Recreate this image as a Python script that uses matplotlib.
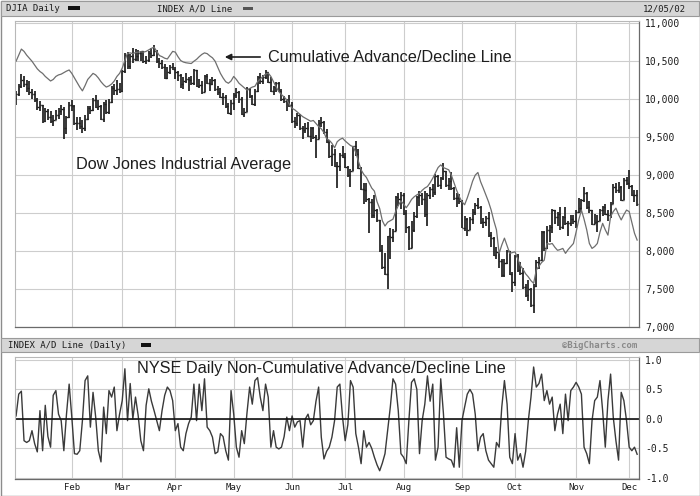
import matplotlib
matplotlib.use("Agg")
import matplotlib.pyplot as plt
import matplotlib.patches as patches
from matplotlib.ticker import FuncFormatter, MultipleLocator
import pandas as pd

# trading days of 2002 shown on the chart (NYSE holidays left out)
holidays = ["2002-01-21", "2002-02-18", "2002-03-29", "2002-05-27",
            "2002-07-04", "2002-09-02", "2002-11-28"]
dates = pd.bdate_range("2002-01-02", "2002-12-05")
dates = dates[~dates.isin(pd.to_datetime(holidays))]
month_labels = ["Feb", "Mar", "Apr", "May", "Jun", "Jul", "Aug", "Sep", "Oct", "Nov", "Dec"]

# DJIA daily bars, one line per month
djia_open = [
    10021, 10073, 10172, 10259, 10197, 10150, 10094, 10067, 9987, 9891, 9924, 9712, 9850, 9771, 9713, 9730, 9796, 9840, 9865, 9618, 9762,
    9920, 9908, 9688, 9685, 9653, 9625, 9745, 9884, 9863, 9989, 9903, 9904, 9745, 9941, 9834, 9969, 10146, 10116, 10128,
    10106, 10368, 10586, 10433, 10574, 10526, 10572, 10612, 10632, 10501, 10517, 10608, 10577, 10635, 10502, 10479, 10427, 10281, 10353, 10426,
    10404, 10362, 10313, 10198, 10235, 10271, 10249, 10208, 10382, 10176, 10191, 10093, 10301, 10220, 10206, 10257, 10136, 10089, 10030, 10035, 9910, 9819,
    9946, 10059, 10091, 10006, 9808, 9836, 10141, 10038, 9939, 10109, 10298, 10244, 10289, 10353, 10229, 10105, 10158, 10216, 10105, 10004, 9981, 9969,
    9925, 9709, 9688, 9796, 9624, 9589, 9620, 9517, 9617, 9502, 9474, 9687, 9706, 9562, 9431, 9253, 9281, 9126, 9120, 9269,
    9243, 9109, 9008, 9055, 9380, 9275, 9097, 8813, 8801, 8685, 8640, 8474, 8542, 8409, 8019, 7785, 7702, 8192, 8187, 8264, 8712, 8680,
    8737, 8506, 8313, 8043, 8274, 8456, 8712, 8745, 8688, 8482, 8743, 8818, 8778, 8990, 8872, 8957, 9053, 8872, 8919, 8825, 8694, 8697,
    8664, 8309, 8426, 8284, 8428, 8520, 8602, 8581, 8380, 8379, 8435, 8207, 8172, 7942, 7986, 7872, 7683, 7841, 7998, 7701,
    7592, 7938, 7755, 7717, 7528, 7422, 7501, 7286, 7534, 7850, 7877, 8255, 8036, 8275, 8322, 8538, 8450, 8494, 8317, 8443, 8368, 8368, 8427,
    8397, 8518, 8571, 8679, 8771, 8586, 8537, 8358, 8386, 8398, 8542, 8579, 8486, 8474, 8623, 8845, 8805, 8849, 8676, 8932,
    8896, 8862, 8743, 8737,
]
djia_high = [
    10111, 10200, 10330, 10300, 10250, 10240, 10130, 10110, 10010, 9980, 9930, 9880, 9870, 9850, 9790, 9860, 9890, 9920, 9900, 9780, 9960,
    9990, 9930, 9760, 9770, 9730, 9790, 9910, 9910, 10010, 10050, 9990, 9920, 9960, 9990, 10000, 10170, 10200, 10250, 10210,
    10390, 10610, 10620, 10600, 10680, 10660, 10650, 10640, 10640, 10570, 10640, 10680, 10720, 10650, 10540, 10520, 10460, 10420, 10450, 10480,
    10420, 10370, 10330, 10290, 10340, 10290, 10300, 10400, 10390, 10260, 10240, 10320, 10330, 10260, 10290, 10260, 10180, 10150, 10080, 10060, 9950, 9990,
    10080, 10150, 10110, 10030, 9890, 10160, 10150, 10060, 10130, 10310, 10340, 10320, 10390, 10360, 10290, 10180, 10230, 10230, 10140, 10040, 10000, 10060,
    9960, 9760, 9820, 9800, 9650, 9690, 9700, 9640, 9640, 9530, 9720, 9760, 9710, 9610, 9460, 9400, 9350, 9170, 9290, 9380,
    9290, 9120, 9080, 9390, 9450, 9340, 9110, 8890, 8890, 8700, 8680, 8740, 8560, 8410, 8080, 7980, 8200, 8300, 8290, 8720, 8770, 8780,
    8760, 8540, 8330, 8390, 8520, 8730, 8790, 8760, 8790, 8770, 8850, 8880, 9010, 9000, 8980, 9160, 9060, 8960, 9040, 8840, 8760, 8750,
    8670, 8460, 8430, 8450, 8560, 8630, 8700, 8590, 8440, 8460, 8510, 8250, 8180, 8050, 7990, 7900, 7900, 8020, 8000, 7720,
    7950, 7960, 7860, 7780, 7560, 7620, 7520, 7560, 7880, 7920, 8270, 8260, 8330, 8340, 8560, 8540, 8520, 8580, 8460, 8580, 8400, 8480, 8480,
    8540, 8700, 8690, 8850, 8780, 8660, 8540, 8490, 8470, 8560, 8600, 8620, 8540, 8650, 8880, 8900, 8910, 8860, 8960, 8970,
    9070, 8870, 8800, 8800,
]
djia_low = [
    9920, 10040, 10150, 10160, 10100, 10060, 10000, 9960, 9860, 9840, 9690, 9700, 9720, 9690, 9650, 9720, 9740, 9790, 9470, 9540, 9750,
    9850, 9660, 9600, 9610, 9560, 9580, 9720, 9800, 9850, 9880, 9860, 9720, 9700, 9800, 9800, 9950, 10050, 10060, 10080,
    10100, 10340, 10400, 10400, 10480, 10500, 10500, 10500, 10480, 10470, 10490, 10540, 10570, 10480, 10410, 10400, 10260, 10260, 10330, 10380,
    10260, 10240, 10150, 10130, 10210, 10110, 10190, 10190, 10160, 10150, 10070, 10090, 10200, 10110, 10190, 10110, 10050, 10010, 9920, 9890, 9800, 9790,
    9860, 10010, 9950, 9790, 9760, 9830, 10010, 9920, 9910, 10100, 10200, 10200, 10260, 10210, 10090, 10060, 10100, 10090, 9980, 9950, 9850, 9900,
    9690, 9620, 9650, 9600, 9470, 9560, 9500, 9440, 9480, 9220, 9470, 9640, 9540, 9420, 9230, 9120, 9110, 8830, 9060, 9220,
    9090, 8980, 8850, 9050, 9250, 9080, 8800, 8620, 8650, 8240, 8440, 8440, 8380, 7990, 7760, 7690, 7500, 7900, 8120, 8260, 8600, 8560,
    8480, 8240, 8020, 8040, 8250, 8440, 8600, 8610, 8450, 8330, 8680, 8710, 8740, 8840, 8820, 8930, 8850, 8800, 8800, 8670, 8580, 8620,
    8300, 8260, 8200, 8280, 8360, 8480, 8560, 8360, 8300, 8330, 8190, 8050, 7930, 7900, 7780, 7660, 7660, 7830, 7690, 7460,
    7540, 7720, 7690, 7500, 7400, 7340, 7260, 7180, 7530, 7760, 7870, 8000, 8030, 8120, 8240, 8360, 8330, 8280, 8290, 8340, 8200, 8330, 8360,
    8310, 8500, 8520, 8640, 8560, 8500, 8340, 8350, 8250, 8390, 8460, 8470, 8400, 8440, 8620, 8770, 8760, 8660, 8670, 8870,
    8820, 8720, 8640, 8600,
]
djia_close = [
    10073, 10172, 10259, 10197, 10150, 10094, 10067, 9987, 9891, 9924, 9712, 9850, 9771, 9713, 9730, 9796, 9840, 9865, 9618, 9762, 9920,
    9908, 9688, 9685, 9653, 9625, 9745, 9884, 9863, 9989, 9903, 9904, 9745, 9941, 9834, 9969, 10146, 10116, 10128, 10106,
    10368, 10586, 10433, 10574, 10526, 10572, 10612, 10632, 10501, 10517, 10608, 10577, 10635, 10502, 10479, 10427, 10281, 10353, 10426, 10404,
    10362, 10313, 10198, 10235, 10271, 10249, 10208, 10382, 10176, 10191, 10093, 10301, 10220, 10206, 10257, 10136, 10089, 10030, 10035, 9910, 9819, 9946,
    10059, 10091, 10006, 9808, 9836, 10141, 10038, 9939, 10109, 10298, 10244, 10289, 10353, 10229, 10105, 10158, 10216, 10105, 10004, 9981, 9969, 9925,
    9709, 9688, 9796, 9624, 9589, 9620, 9517, 9617, 9502, 9474, 9687, 9706, 9562, 9431, 9253, 9281, 9126, 9120, 9269, 9243,
    9109, 9008, 9055, 9380, 9275, 9097, 8813, 8801, 8685, 8640, 8474, 8542, 8409, 8019, 7785, 7702, 8192, 8187, 8264, 8712, 8680, 8737,
    8506, 8313, 8043, 8274, 8456, 8712, 8745, 8688, 8482, 8743, 8818, 8778, 8990, 8872, 8957, 9053, 8872, 8919, 8825, 8694, 8697, 8664,
    8309, 8426, 8284, 8428, 8520, 8602, 8581, 8380, 8379, 8435, 8207, 8172, 7942, 7986, 7872, 7683, 7841, 7998, 7701, 7592,
    7938, 7755, 7717, 7528, 7422, 7501, 7286, 7534, 7850, 7877, 8255, 8036, 8275, 8322, 8538, 8450, 8494, 8317, 8443, 8368, 8368, 8427, 8397,
    8518, 8571, 8679, 8771, 8586, 8537, 8358, 8386, 8398, 8542, 8579, 8486, 8474, 8623, 8845, 8805, 8849, 8676, 8932, 8896,
    8862, 8743, 8737, 8623,
]

# cumulative A/D line, drawn on the price scale
ad_cum = [
    10500, 10580, 10660, 10630, 10580, 10540, 10500, 10450, 10400, 10365,
    10340, 10300, 10270, 10240, 10260, 10300, 10320, 10330, 10350, 10370,
    10385, 10340, 10280, 10220, 10160, 10110, 10180, 10260, 10300, 10340,
    10320, 10280, 10230, 10190, 10160, 10175, 10200, 10240, 10300, 10340,
    10410, 10510, 10605, 10610, 10600, 10615, 10620, 10625, 10620, 10630,
    10650, 10670, 10685, 10630, 10575, 10560, 10540, 10530, 10580, 10630,
    10620, 10560, 10510, 10490, 10480, 10475, 10470, 10500, 10525, 10560,
    10590, 10610, 10600, 10570, 10545, 10500, 10420, 10340, 10280, 10230,
    10210, 10240, 10300, 10260, 10210, 10180, 10150, 10120, 10140, 10160,
    10170, 10230, 10265, 10300, 10330, 10345, 10300, 10230, 10160, 10100,
    10060, 10030, 9990, 9930, 9880, 9860, 9830, 9800, 9770, 9750,
    9730, 9710, 9720, 9680, 9640, 9610, 9560, 9480, 9460, 9420,
    9360, 9440, 9470, 9487, 9450, 9420, 9390, 9375, 9300, 9180,
    9070, 9010, 8970, 8900, 8830, 8790, 8650, 8560, 8400, 8330,
    8380, 8400, 8420, 8520, 8600, 8660, 8620, 8570, 8620, 8680,
    8715, 8740, 8760, 8800, 8830, 8850, 8900, 8960, 9030, 9100,
    9135, 9100, 9085, 9070, 9000, 8900, 8800, 8715, 8650, 8610,
    8700, 8805, 8920, 9000, 9035, 8915, 8830, 8740, 8650, 8540,
    8400, 8280, 7970, 8080, 8170, 8070, 7970, 7980, 7990, 7900,
    7810, 7760, 7700, 7660, 7610, 7575, 7750, 7800, 7850, 7880,
    8100, 8090, 8100, 8050, 8010, 8020, 8035, 7970, 8020, 8060,
    8100, 8250, 8410, 8540, 8420, 8280, 8100, 8035, 8060, 8100,
    8250, 8365, 8280, 8210, 8455, 8520, 8565, 8480, 8410, 8480,
    8540, 8520, 8380, 8235, 8145,
]

# daily (non-cumulative) A/D line
ad_daily = [
    0.05, 0.42, 0.47, -0.37, -0.40, -0.37, -0.20, -0.42, -0.56, 0.14,
    -0.54, 0.23, -0.30, -0.48, 0.40, 0.48, 0.08, -0.03, -0.54, 0.08,
    0.59, 0.03, -0.59, -0.60, -0.54, -0.03, 0.65, 0.73, -0.14, 0.45,
    0.03, -0.54, -0.73, 0.20, -0.25, 0.48, 0.37, 0.54, -0.20, 0.08,
    0.31, 0.85, -0.03, 0.60, 0.00, 0.37, 0.06, -0.37, -0.54, 0.23,
    0.51, 0.30, 0.14, -0.03, -0.20, 0.14, 0.40, 0.54, 0.48, 0.31,
    -0.20, -0.08, -0.48, -0.54, -0.25, -0.08, 0.03, 0.59, -0.03, 0.59,
    0.14, 0.68, -0.14, -0.20, -0.31, -0.59, -0.56, -0.25, -0.30, -0.54,
    -0.70, 0.48, 0.08, -0.48, -0.65, -0.20, -0.42, 0.10, 0.54, 0.25,
    0.65, 0.70, 0.37, 0.14, 0.59, 0.37, -0.48, -0.20, -0.48, -0.51,
    -0.48, -0.30, 0.03, -0.20, 0.05, -0.14, -0.05, -0.03, -0.48, 0.00,
    0.08, -0.10, -0.03, 0.30, 0.54, -0.31, -0.68, -0.55, -0.48, -0.31,
    -0.03, 0.54, 0.59, 0.03, -0.37, -0.10, 0.65, 0.54, -0.25, -0.48,
    -0.76, -0.20, -0.48, -0.40, -0.50, -0.65, -0.78, -0.88, -0.75, -0.59,
    -0.20, 0.20, 0.68, 0.59, 0.14, -0.59, -0.65, -0.76, -0.03, 0.62,
    0.68, 0.50, -0.59, -0.03, 0.25, 0.73, 0.30, 0.59, -0.70, -0.48,
    0.68, 0.10, -0.65, -0.68, -0.70, -0.82, -0.15, -0.82, -0.03, 0.20,
    0.42, 0.50, 0.42, 0.08, -0.54, -0.31, -0.25, -0.54, -0.70, -0.76,
    -0.82, -0.40, -0.48, 0.20, 0.65, 0.25, -0.65, -0.76, -0.25, -0.70,
    -0.59, -0.82, -0.55, -0.03, 0.37, 0.88, 0.54, 0.60, 0.76, 0.31,
    0.48, 0.25, 0.37, -0.20, 0.08, 0.25, -0.25, 0.42, -0.03, 0.48,
    0.54, 0.62, 0.54, 0.42, -0.48, -0.59, -0.76, -0.03, 0.31, 0.37,
    0.65, 0.14, -0.48, 0.31, 0.76, 0.03, -0.37, -0.70, 0.45, 0.31,
    -0.03, -0.48, -0.54, -0.48, -0.60,
]

W, H = 700, 496
GRID = "#cdcdcd"
INK = "#1e1e1e"


def box(l, t, r, b):
    return [l / W, 1 - b / H, (r - l) / W, (b - t) / H]


def band(t, b):
    fig.add_artist(patches.Rectangle((1 / W, 1 - b / H), 698 / W, (b - t) / H,
                                     transform=fig.transFigure, facecolor="#d6d6d6",
                                     edgecolor="#9a9a9a", lw=0.8))


def swatch(l, t, r, b, color):
    fig.add_artist(patches.Rectangle((l / W, 1 - b / H), (r - l) / W, (b - t) / H,
                                     transform=fig.transFigure, facecolor=color, lw=0))


x = list(range(len(dates)))
month_pos = [i for i in range(1, len(dates)) if dates[i].month != dates[i - 1].month]

fig = plt.figure(figsize=(W / 100, H / 100), dpi=100)
fig.patch.set_facecolor("white")

# outer frame and header bands
fig.add_artist(patches.Rectangle((0.5 / W, 0.5 / H), 699 / W, 495 / H, transform=fig.transFigure,
                                 facecolor="none", edgecolor="#8c8c8c", lw=1.0))
band(1, 16)
band(338, 352)

mono = "DejaVu Sans Mono"
fig.text(6 / W, 1 - 8.5 / H, "DJIA Daily", fontsize=6.5, family=mono, color=INK, va="center")
swatch(68, 6, 80, 10, "#111111")
fig.text(157 / W, 1 - 8.5 / H, "INDEX A/D Line", fontsize=6.5, family=mono, color=INK, va="center")
swatch(243, 7, 253, 10, "#555555")
fig.text(686 / W, 1 - 8.5 / H, "12/05/02", fontsize=6.5, family=mono, color=INK, va="center", ha="right")
fig.text(8 / W, 1 - 345 / H, "INDEX A/D Line (Daily)", fontsize=6.5, family=mono, color=INK, va="center")
swatch(141, 343, 151, 347, "#111111")
fig.text(637 / W, 1 - 345 / H, "\u00a9BigCharts.com", fontsize=6.5, family=mono, color="#8a8a8a",
         va="center", ha="right", weight="bold")

# price panel
ax1 = fig.add_axes(box(15, 21, 639, 327))
ax1.vlines(x, djia_low, djia_high, color=INK, lw=1.25)
ax1.hlines(djia_open, [i - 0.5 for i in x], x, color=INK, lw=1.0)
ax1.hlines(djia_close, x, [i + 0.5 for i in x], color=INK, lw=1.0)
ax1.plot(x, ad_cum, color="#6e6e6e", lw=0.9)
ax1.set_xlim(-0.4, 234.7)
ax1.set_ylim(7000, 11030)
ax1.yaxis.set_major_locator(MultipleLocator(500))
ax1.yaxis.set_major_formatter(FuncFormatter(lambda v, p: f"{v:,.0f}"))
ax1.set_xticks(month_pos)
ax1.set_xticklabels([])

ax1.annotate("", xy=(222, H - 57), xytext=(263, H - 57), xycoords="figure pixels",
             arrowprops=dict(arrowstyle="-|>", color=INK, lw=1.2, mutation_scale=9))
fig.text(268 / W, 1 - 57 / H, "Cumulative Advance/Decline Line", fontsize=11.7,
         family="Liberation Sans", color=INK, va="center")
fig.text(76 / W, 1 - 165 / H, "Dow Jones Industrial Average", fontsize=11.7,
         family="Liberation Sans", color=INK, va="center")

# daily A/D panel
ax2 = fig.add_axes(box(15, 357, 639, 479))
ax2.plot(x, ad_daily, color="#3a3a3a", lw=1.0)
ax2.axhline(0, color="#111111", lw=1.2)
ax2.set_xlim(-0.4, 234.7)
ax2.set_ylim(-1.02, 1.05)
ax2.set_yticks([-1.0, -0.5, 0.0, 0.5, 1.0])
ax2.yaxis.set_major_formatter(FuncFormatter(lambda v, p: f"{v:.1f}"))
ax2.set_xticks(month_pos)
ax2.set_xticklabels(month_labels)
fig.text(137 / W, 1 - 369 / H, "NYSE Daily Non-Cumulative Advance/Decline Line", fontsize=11.7,
         family="Liberation Sans", color=INK, va="center")

for ax in (ax1, ax2):
    ax.grid(True, color=GRID, lw=0.8)
    ax.set_axisbelow(True)
    ax.yaxis.tick_right()
    ax.tick_params(length=0, labelsize=7, labelcolor=INK, pad=4.5)
    for lab in ax.get_yticklabels() + ax.get_xticklabels():
        lab.set_family(mono)
    for side in ("top", "left"):
        ax.spines[side].set_color("#b8b8b8")
        ax.spines[side].set_linewidth(0.8)
    for side in ("right", "bottom"):
        ax.spines[side].set_color("#6a6a6a")
        ax.spines[side].set_linewidth(0.9)
ax2.tick_params(axis="x", pad=3, labelsize=6.5)

fig.savefig("out.png", dpi=100)
